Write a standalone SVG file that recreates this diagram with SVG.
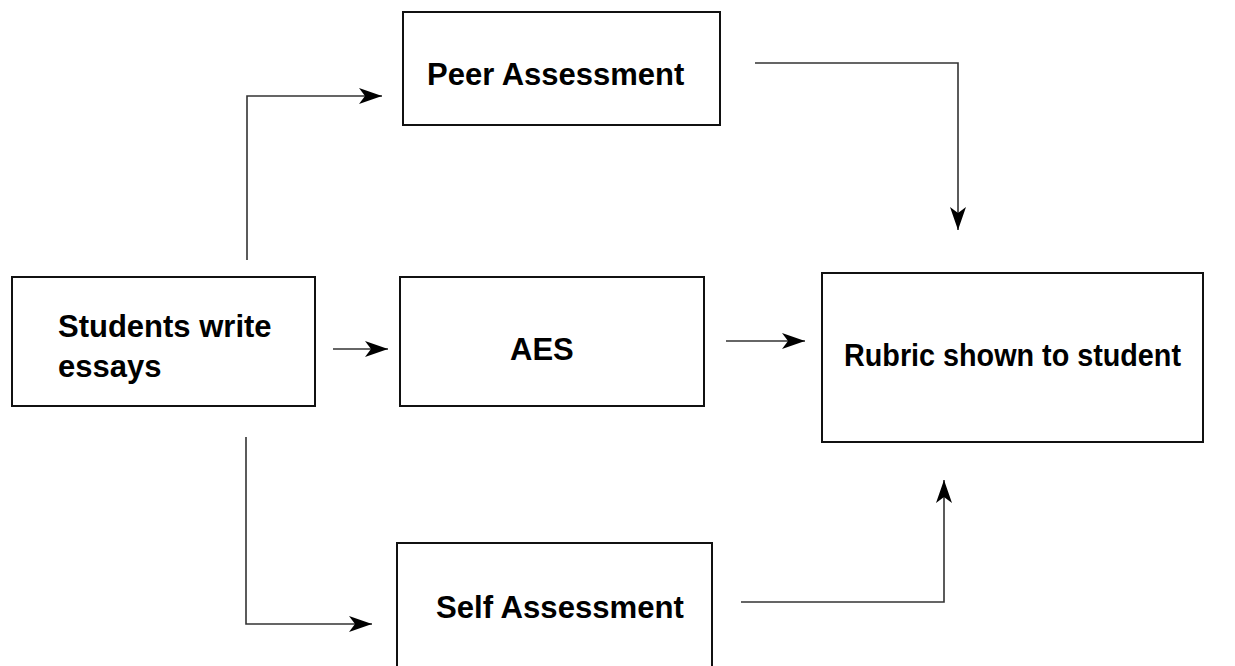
<svg xmlns="http://www.w3.org/2000/svg" width="1235" height="666" viewBox="0 0 1235 666">
  <style>
    .box { fill: #ffffff; stroke: #111111; stroke-width: 2; }
    .label { font-family: "Liberation Sans", Arial, sans-serif; font-weight: bold; font-size: 31px; fill: #000000; }
    .link { fill: none; stroke: #333333; stroke-width: 1.6; marker-end: url(#arrow); }
  </style>
  <defs>
    <marker id="arrow" markerUnits="userSpaceOnUse" markerWidth="28" markerHeight="20" viewBox="-25 -10 27 20" refX="0" refY="0" orient="auto">
      <path d="M0,0 L-23,-8 L-17,0 L-23,8 Z" fill="#000000"/>
    </marker>
  </defs>
  <rect width="1235" height="666" fill="#ffffff"/>

  <g id="students">
    <rect class="box" x="12" y="277" width="303" height="129"/>
    <text class="label" x="58" y="337">Students write</text>
    <text class="label" x="58" y="377">essays</text>
  </g>

  <g id="peer">
    <rect class="box" x="403" y="12" width="317" height="113"/>
    <text class="label" x="427" y="85">Peer Assessment</text>
  </g>

  <g id="aes">
    <rect class="box" x="400" y="277" width="304" height="129"/>
    <text class="label" x="510" y="360">AES</text>
  </g>

  <g id="self">
    <rect class="box" x="397" y="543" width="315" height="140"/>
    <text class="label" x="436" y="618" textLength="248" lengthAdjust="spacingAndGlyphs">Self Assessment</text>
  </g>

  <g id="rubric">
    <rect class="box" x="822" y="273" width="381" height="169"/>
    <text class="label" x="844" y="366" textLength="337" lengthAdjust="spacingAndGlyphs">Rubric shown to student</text>
  </g>

  <g id="connectors">
    <path class="link" d="M247,260 L247,96 L382,96"/>
    <path class="link" d="M333,349 L388,349"/>
    <path class="link" d="M246,437 L246,624 L372,624"/>
    <path class="link" d="M755,63 L958,63 L958,230"/>
    <path class="link" d="M726,341 L805,341"/>
    <path class="link" d="M741,602 L944,602 L944,480"/>
  </g>
</svg>
